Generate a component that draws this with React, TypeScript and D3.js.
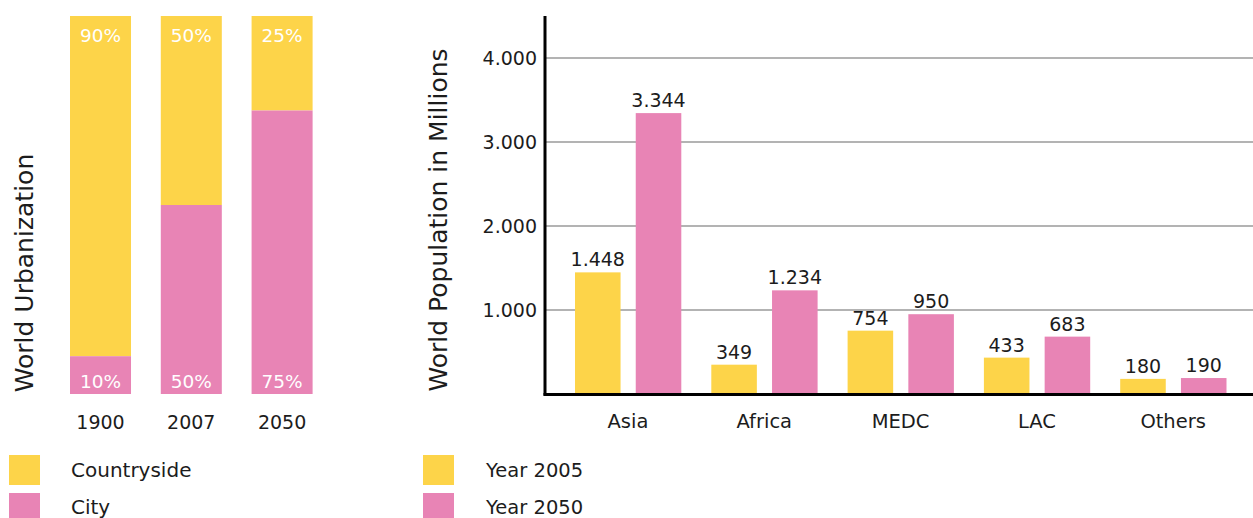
import React from "react";
import * as d3 from "d3";

const W = 1253;
const H = 518;

// Left chart data
const urbYears = ["1900", "2007", "2050"];
const cityShare = [10, 50, 75];
const countryShare = [90, 50, 25];

// Right chart data
const regions = ["Asia", "Africa", "MEDC", "LAC", "Others"];
const pop2005 = [1448, 349, 754, 433, 180];
const pop2050 = [3344, 1234, 950, 683, 190];
const popTicks = [1000, 2000, 3000, 4000];

const YELLOW = "#FDD449";
const PINK = "#E884B5";
const FONT = "DejaVu Sans";
const TEXT = "#1c1c1c";

const fmt = d3
  .formatLocale({ decimal: ",", thousands: ".", grouping: [3], currency: ["", ""] })
  .format(",");

export default function App() {
  // Left chart scales
  const lx = d3.scaleBand<string>().domain(urbYears).range([70, 312.6]).paddingInner(0.328).paddingOuter(0);
  const ly = d3.scaleLinear().domain([0, 100]).range([394, 16]);

  // Right chart scales
  const rx0 = d3.scaleBand<string>().domain(regions).range([559.8, 1241.3]).padding(0);
  const rx1 = d3.scaleBand<string>().domain(["2005", "2050"]).range([15.2, 121.5]).paddingInner(0.25).paddingOuter(0);
  const ry = d3.scaleLinear().domain([0, 4500]).range([394, 16]);

  const series = [
    { key: "2005", values: pop2005, color: YELLOW },
    { key: "2050", values: pop2050, color: PINK },
  ];

  return (
    <svg
      width={W}
      height={H}
      style={{ position: "absolute", left: 0, top: 0, background: "#fff" }}
      fontFamily={FONT}
    >
      {/* ---------- Left chart ---------- */}
      <text
        transform={`translate(33,273) rotate(-90)`}
        textAnchor="middle"
        fontSize={25}
        fill={TEXT}
      >
        World Urbanization
      </text>
      {urbYears.map((yr, i) => {
        const x = lx(yr)!;
        const bw = lx.bandwidth();
        const cityTop = ly(cityShare[i]);
        const countryTop = ly(cityShare[i] + countryShare[i]);
        return (
          <g key={yr}>
            <rect x={x} y={countryTop} width={bw} height={cityTop - countryTop} fill={YELLOW} />
            <rect x={x} y={cityTop} width={bw} height={ly(0) - cityTop} fill={PINK} />
            <text x={x + bw / 2} y={countryTop + 25.5} textAnchor="middle" fontSize={18.5} fill="#fff">
              {countryShare[i]}%
            </text>
            <text x={x + bw / 2} y={ly(0) - 6} textAnchor="middle" fontSize={18.5} fill="#fff">
              {cityShare[i]}%
            </text>
            <text x={x + bw / 2} y={428.5} textAnchor="middle" fontSize={19} fill={TEXT}>
              {yr}
            </text>
          </g>
        );
      })}

      {/* ---------- Right chart ---------- */}
      <text
        transform={`translate(447,220) rotate(-90)`}
        textAnchor="middle"
        fontSize={25}
        fill={TEXT}
      >
        World Population in Millions
      </text>
      {popTicks.map((t) => (
        <g key={t}>
          <line x1={545} x2={W} y1={ry(t)} y2={ry(t)} stroke="#b3b3b3" strokeWidth={2} />
          <text x={537} y={ry(t)} dy="0.35em" textAnchor="end" fontSize={19} fill={TEXT}>
            {fmt(t)}
          </text>
        </g>
      ))}
      {regions.map((r, i) => {
        const gx = rx0(r)!;
        return (
          <g key={r}>
            {series.map((s) => {
              const x = gx + rx1(s.key)!;
              const bw = rx1.bandwidth();
              const v = s.values[i];
              return (
                <g key={s.key}>
                  <rect x={x} y={ry(v)} width={bw} height={ry(0) - ry(v)} fill={s.color} />
                  <text x={x + bw / 2} y={ry(v) - 6} textAnchor="middle" fontSize={19} fill={TEXT}>
                    {fmt(v)}
                  </text>
                </g>
              );
            })}
            <text x={gx + rx0.bandwidth() / 2} y={428} textAnchor="middle" fontSize={19.5} fill={TEXT}>
              {r}
            </text>
          </g>
        );
      })}
      <line x1={545} x2={545} y1={16} y2={395.5} stroke="#000" strokeWidth={3} />
      <line x1={543.5} x2={W} y1={394.5} y2={394.5} stroke="#000" strokeWidth={3} />

      {/* ---------- Legends ---------- */}
      <rect x={9} y={455} width={31} height={30} fill={YELLOW} />
      <text x={71} y={470} dy="0.35em" fontSize={20} fill={TEXT}>Countryside</text>
      <rect x={9} y={493} width={31} height={30} fill={PINK} />
      <text x={71} y={507} dy="0.35em" fontSize={20} fill={TEXT}>City</text>

      <rect x={423} y={455} width={31} height={30} fill={YELLOW} />
      <text x={486} y={470} dy="0.35em" fontSize={19.5} fill={TEXT}>Year 2005</text>
      <rect x={423} y={493} width={31} height={30} fill={PINK} />
      <text x={486} y={507} dy="0.35em" fontSize={19.5} fill={TEXT}>Year 2050</text>
    </svg>
  );
}
